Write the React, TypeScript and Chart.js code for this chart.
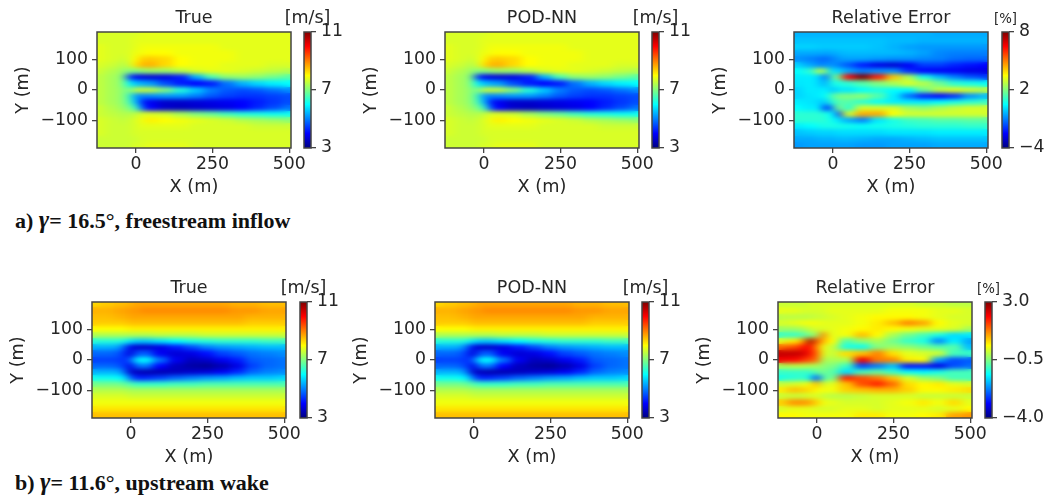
import React, { useEffect, useRef } from "react";
import { Chart, registerables } from "chart.js";

Chart.register(...registerables);

const xCols = [-125, -75, -40, -20, 0, 25, 50, 100, 150, 200, 250, 300, 350, 400, 450, 500];
const yRows = [180, 160, 140, 120, 100, 80, 60, 40, 20, 0, -20, -40, -60, -80, -100, -120, -140, -160, -180];

const xTicks = [0, 250, 500];
const yTicks = [-100, 0, 100];

const speedFreestream = [
  [7.7,7.7,7.7,7.7,7.7,7.8,7.8,7.8,7.8,7.8,7.8,7.8,7.8,7.8,7.8,7.8],
  [7.7,7.7,7.7,7.7,7.8,7.8,7.8,7.8,7.8,7.8,7.8,7.8,7.8,7.8,7.8,7.8],
  [7.8,7.7,7.7,7.7,7.8,7.9,7.9,7.9,7.9,7.9,7.9,7.8,7.8,7.8,7.8,7.8],
  [7.8,7.7,7.7,7.7,7.9,7.9,8.0,8.0,7.9,7.9,7.9,7.9,7.8,7.8,7.8,7.8],
  [7.8,7.7,7.6,7.7,8.0,8.4,8.4,8.3,8.0,7.9,7.9,7.9,7.8,7.8,7.8,7.8],
  [7.7,7.6,7.4,7.6,8.2,8.6,8.6,8.3,8.0,7.9,7.9,7.8,7.8,7.8,7.7,7.7],
  [7.6,7.4,7.2,7.0,7.0,7.1,7.2,7.2,7.4,7.7,7.8,7.8,7.7,7.6,7.5,7.4],
  [7.5,7.3,7.0,4.5,3.9,3.8,3.7,3.8,4.2,5.4,6.6,7.1,7.2,7.1,6.9,6.7],
  [7.5,7.3,7.0,6.0,5.5,5.4,5.2,4.6,4.2,4.0,4.2,4.9,5.4,5.7,5.9,6.0],
  [7.5,7.3,7.1,6.8,7.5,7.6,7.5,7.0,6.3,5.6,5.0,4.7,4.6,4.7,4.9,5.1],
  [7.5,7.3,7.1,6.5,5.2,5.0,5.1,5.2,5.2,5.0,4.7,4.5,4.4,4.4,4.5,4.6],
  [7.5,7.3,7.1,6.6,5.5,4.3,3.9,3.6,3.6,3.7,3.8,3.9,4.0,4.2,4.4,4.6],
  [7.6,7.4,7.2,7.0,6.5,4.8,4.0,3.6,3.5,3.6,3.7,3.8,4.0,4.3,4.6,4.9],
  [7.6,7.5,7.4,7.4,7.5,7.7,7.7,7.6,7.3,7.0,6.8,6.5,6.3,6.2,6.1,6.1],
  [7.7,7.6,7.5,7.6,7.7,7.9,8.1,8.0,7.9,7.8,7.7,7.6,7.4,7.3,7.2,7.1],
  [7.7,7.6,7.6,7.6,7.7,7.8,7.8,7.8,7.8,7.7,7.7,7.7,7.7,7.6,7.6,7.6],
  [7.7,7.6,7.6,7.6,7.7,7.7,7.7,7.7,7.7,7.7,7.7,7.7,7.7,7.7,7.7,7.7],
  [7.6,7.6,7.6,7.6,7.6,7.7,7.7,7.7,7.7,7.7,7.7,7.7,7.7,7.7,7.7,7.7],
  [7.6,7.6,7.6,7.6,7.7,7.7,7.8,7.8,7.8,7.7,7.7,7.7,7.7,7.7,7.7,7.7],
];

const errorFreestream = [
  [-0.4,-0.4,-0.4,-0.4,-0.4,-0.4,-0.4,-0.4,-0.4,-0.4,-0.4,-0.4,-0.5,-0.5,-0.5,-0.5],
  [-0.2,-0.2,-0.2,-0.2,-0.2,-0.2,-0.2,-0.2,-0.2,-0.3,-0.3,-0.4,-0.4,-0.4,-0.4,-0.4],
  [0,0,-0.1,-0.1,-0.1,-0.1,-0.1,-0.1,-0.2,-0.4,-0.6,-0.7,-0.7,-0.7,-0.7,-0.7],
  [-0.5,-0.5,-0.5,-0.6,-0.5,-0.4,-0.3,-0.3,-0.3,-0.3,-0.4,-0.6,-0.9,-1,-1,-1],
  [-0.8,-1,-1.2,-1.3,-1,-0.7,-0.6,-0.6,-0.7,-0.8,-0.8,-0.9,-1,-1.2,-1.3,-1.3],
  [0,-0.5,-1,-0.8,-0.8,-1,-1.5,-2.2,-2.8,-3,-2.6,-1.8,-1.8,-2.1,-2.3,-2.5],
  [0.5,1,3,1.8,0,0.2,-0.5,-1,-0.8,-0.8,-2,-2.5,-2.6,-2.6,-2.8,-2.8],
  [0.3,0.3,0,-1.5,1.5,2,6.5,8,6.2,4.2,2.5,0.8,-0.3,-1,-1.5,-1.8],
  [0.2,0.3,0,-0.5,0.8,0.8,1,1.5,2,2.5,3,2.6,1.8,1,0.8,0.6],
  [0,0.3,0.2,0.5,-0.3,0.3,0.2,0.5,0.8,0.5,0.5,1.8,2.8,3.2,3,2.8],
  [0,0.2,0.3,0.5,1.5,2,2,2.2,1.5,0.3,-1.2,-2.2,-2.5,-2,-0.8,-0.3],
  [0.3,0.2,0,-0.2,1,1.5,1.5,1,0.6,0.3,0.3,0.3,0.5,0.8,1,1.2],
  [0.5,0.3,0.3,-2.6,-0.5,2.5,1,3,3,3,2.4,2.2,2.5,2.8,3,3],
  [1,1,1,0.8,0.5,-2.2,3,4.5,4.5,3.5,3,3,3,3,3,3],
  [1,1,1,1,0.6,0.2,-0.5,-1,0.2,0.8,1.2,1.3,1.5,1.5,1.6,1.6],
  [0.3,0.5,0.7,0.8,0.8,0.8,0.7,0.6,0.7,0.8,0.9,1,1,1,1.1,1.1],
  [-0.2,-0.1,0,0,0,0.1,0.1,0.1,0.1,0.2,0.2,0.2,0.3,0.3,0.3,0.3],
  [-0.5,-0.5,-0.4,-0.4,-0.4,-0.3,-0.3,-0.4,-0.5,-0.5,-0.4,-0.3,-0.2,-0.2,-0.2,-0.2],
  [-0.7,-0.6,-0.6,-0.6,-0.6,-0.6,-0.6,-0.7,-0.7,-0.6,-0.6,-0.6,-0.5,-0.5,-0.5,-0.5],
];

const speedWake = [
  [8.3,8.4,8.5,8.5,8.6,8.7,8.7,8.7,8.7,8.7,8.7,8.7,8.6,8.6,8.5,8.5],
  [8.6,8.6,8.7,8.7,8.8,8.8,8.9,8.9,8.9,8.9,8.9,8.9,8.8,8.8,8.7,8.7],
  [8.5,8.5,8.6,8.6,8.7,8.7,8.7,8.7,8.7,8.7,8.7,8.7,8.7,8.6,8.6,8.6],
  [8.4,8.4,8.4,8.4,8.5,8.5,8.5,8.5,8.5,8.5,8.5,8.5,8.5,8.4,8.4,8.4],
  [8.0,8.0,8.0,8.0,8.1,8.1,8.1,8.1,8.1,8.1,8.1,8.1,8.1,8.1,8.1,8.1],
  [7.4,7.4,7.4,7.4,7.4,7.4,7.4,7.5,7.5,7.5,7.6,7.6,7.6,7.6,7.6,7.6],
  [6.3,6.3,6.3,6.2,5.8,5.6,5.6,5.8,6.0,6.2,6.3,6.4,6.4,6.4,6.5,6.5],
  [5.4,5.4,5.3,4.8,3.8,3.6,3.6,3.8,4.2,4.6,5.0,5.2,5.3,5.4,5.5,5.5],
  [4.8,4.8,4.7,4.4,3.7,4.7,4.7,3.9,3.7,3.8,4.1,4.5,4.7,4.9,5.0,5.1],
  [4.5,4.5,4.5,4.3,4.7,6.0,6.0,4.9,3.9,3.5,3.6,3.9,4.2,4.7,4.8,4.9],
  [4.8,4.8,4.7,4.5,3.8,4.9,4.9,4.0,3.5,3.3,3.2,3.4,3.8,4.5,4.8,4.9],
  [5.4,5.4,5.4,4.9,3.6,3.5,3.4,3.4,3.5,3.6,3.7,3.9,4.3,4.8,5.0,5.1],
  [6.1,6.1,6.0,5.9,4.8,4.2,4.3,4.5,4.8,5.0,5.2,5.3,5.5,5.6,5.6,5.7],
  [6.9,6.9,6.9,6.8,6.6,6.4,6.4,6.4,6.5,6.5,6.6,6.6,6.6,6.6,6.6,6.6],
  [7.4,7.4,7.4,7.4,7.3,7.3,7.3,7.3,7.3,7.3,7.3,7.3,7.3,7.3,7.3,7.3],
  [7.7,7.7,7.7,7.7,7.6,7.6,7.6,7.6,7.6,7.6,7.6,7.6,7.6,7.6,7.6,7.6],
  [7.9,7.9,7.9,7.9,7.9,7.9,7.9,7.9,7.9,7.9,7.9,7.9,7.9,7.9,7.9,7.9],
  [8.2,8.2,8.2,8.2,8.2,8.2,8.2,8.2,8.2,8.2,8.2,8.2,8.2,8.2,8.2,8.2],
  [8.5,8.5,8.5,8.5,8.5,8.5,8.5,8.5,8.5,8.5,8.5,8.5,8.5,8.5,8.5,8.5],
];

const errorWake = [
  [0,0,0,0.1,0.1,0.1,0.1,0.1,0.1,0.1,0.1,0.1,0,0,-0.1,-0.1],
  [0.2,0.2,0.1,0.1,0.1,0.1,0.2,0.2,0.2,0.2,0.3,0.3,0.3,0.2,0.2,0.1],
  [-0.1,-0.1,-0.1,-0.1,0,0,0.1,0.2,0.3,0.4,0.4,0.4,0.3,0.2,0.1,0.1],
  [0.1,0.2,0.3,0.3,0.3,0.2,0.2,0.2,0.3,0.5,0.8,1.2,1,0.4,0.2,0.1],
  [-0.3,-0.3,-0.2,0,0.1,0.1,0.2,0.3,0.4,0.5,0.4,0.3,0.2,0.2,0.1,-0.2],
  [-1,-1,-0.8,-0.5,-0.3,1.4,0.2,0.3,0.8,0.4,-0.2,-0.6,-0.9,-1.2,-1.6,-1.5],
  [0.2,0.5,1.1,3,1.5,1,0.4,-0.8,-0.4,-0.2,-0.6,-1,-1.2,-2.2,-1.5,-2],
  [1.4,1.6,2,2.1,1.2,0.3,0,-1.2,-1.3,-0.5,-0.3,-0.4,-0.6,-0.8,-0.8,-1.8],
  [2.5,2.5,2.4,2,1.5,0.2,0,0.6,0.8,1.2,0.6,0.2,0.1,0,-0.9,-1],
  [2.2,2.1,1.8,1.6,1.4,-0.2,-0.2,-0.2,2.2,1.3,1.2,0.5,0.4,-2,-2.6,-2.5],
  [-0.2,-0.1,-0.1,-0.2,-0.2,-0.4,-0.5,-1,-2.6,-2.3,-1.8,-3,-3,-3.3,-2.6,-2.4],
  [-1,-1,-1,-1,-0.8,-0.5,-0.8,-1.6,-0.9,-0.7,-1,-1.3,-1.4,-1.2,-0.9,-0.9],
  [-1.2,-1.1,-1,-1.3,-2.8,-0.9,-0.6,1.9,1.6,1.3,0.8,0.1,-0.3,-0.5,-0.9,-0.9],
  [0,0.1,0.2,0.3,0.9,0,0.2,0.8,1.6,1.9,1.4,0.6,0.4,0.5,0.2,0.1],
  [0.5,0.8,0.7,0.6,0.4,0.3,0.3,0.7,0.8,0.9,0.9,0.7,0.4,0.4,0.5,0.6],
  [0,0,0,0.1,0.1,0,-0.1,-0.1,0,0.1,0.1,0.1,0,0,0,0],
  [0.7,1.1,1.1,1,0.7,0.3,0.2,0.1,0.1,0.1,0.2,0.3,0.5,0.3,0.6,0.2],
  [0.1,0.2,0.2,0.2,0.1,0.1,0.1,0.2,0.2,0.1,0.2,0.2,0.2,0.1,0.2,0.4],
  [0.4,0.4,0.3,0.3,0.3,0.3,0.3,0.3,0.5,0.5,0.3,0.3,0.4,0.5,1,1.1],
];

const podSpeedFreestream = speedFreestream;
const podSpeedWake = speedWake;

type Panel = {
  title: string; unit: string; unitSmall: boolean; grid: number[][];
  min: number; max: number; cbarTicks: number[]; decimals: number;
  left: number; top: number; barLeft: number;
};

const panels: Panel[] = [
  { title: "True", unit: "[m/s]", unitSmall: false, grid: speedFreestream, min: 3, max: 11, cbarTicks: [3, 7, 11], decimals: 0, left: 97, top: 32, barLeft: 304 },
  { title: "POD-NN", unit: "[m/s]", unitSmall: false, grid: podSpeedFreestream, min: 3, max: 11, cbarTicks: [3, 7, 11], decimals: 0, left: 445, top: 32, barLeft: 652 },
  { title: "Relative Error", unit: "[%]", unitSmall: true, grid: errorFreestream, min: -4, max: 8, cbarTicks: [-4, 2, 8], decimals: 0, left: 794, top: 32, barLeft: 1002 },
  { title: "True", unit: "[m/s]", unitSmall: false, grid: speedWake, min: 3, max: 11, cbarTicks: [3, 7, 11], decimals: 0, left: 92, top: 302, barLeft: 300 },
  { title: "POD-NN", unit: "[m/s]", unitSmall: false, grid: podSpeedWake, min: 3, max: 11, cbarTicks: [3, 7, 11], decimals: 0, left: 435, top: 302, barLeft: 642 },
  { title: "Relative Error", unit: "[%]", unitSmall: true, grid: errorWake, min: -4, max: 3, cbarTicks: [-4, -0.5, 3], decimals: 1, left: 778, top: 302, barLeft: 985 },
];

const AREA_W = 194;
const AREA_H = 116;
const FONT = '"DejaVu Sans"';
const INK = "#262626";

const clamp = (v: number) => Math.max(0, Math.min(1, v));
const jet = (t: number) => {
  const r = clamp(Math.min(4 * t - 1.5, -4 * t + 4.5));
  const g = clamp(Math.min(4 * t - 0.5, -4 * t + 3.5));
  const b = clamp(Math.min(4 * t + 0.5, -4 * t + 2.5));
  return `rgb(${Math.round(r * 255)},${Math.round(g * 255)},${Math.round(b * 255)})`;
};

const cellCache = new Map<string, HTMLCanvasElement>();
const cellImage = (color: string, w: number, h: number) => {
  const key = `${color}|${w}|${h}`;
  let c = cellCache.get(key);
  if (!c) {
    c = document.createElement("canvas");
    c.width = w;
    c.height = h;
    const g = c.getContext("2d")!;
    g.fillStyle = color;
    g.fillRect(0, 0, w, h);
    cellCache.set(key, c);
  }
  return c;
};

const smoothPlugin = {
  id: "smooth",
  afterDatasetsDraw(chart: any) {
    const a = chart.chartArea;
    const w = Math.round(a.right - a.left);
    const h = Math.round(a.bottom - a.top);
    const off = document.createElement("canvas");
    off.width = Math.round(w / 2);
    off.height = h;
    const o = off.getContext("2d")!;
    o.filter = "blur(2px)";
    o.drawImage(chart.canvas, a.left, a.top, w, h, 0, 0, off.width, off.height);
    const ctx = chart.ctx;
    ctx.save();
    ctx.beginPath();
    ctx.rect(a.left, a.top, w, h);
    ctx.clip();
    ctx.imageSmoothingEnabled = true;
    ctx.imageSmoothingQuality = "high";
    ctx.drawImage(off, a.left, a.top, w, h);
    ctx.restore();
  },
};

const framePlugin = {
  id: "frame",
  afterDraw(chart: any) {
    const a = chart.chartArea;
    const ctx = chart.ctx;
    ctx.save();
    ctx.strokeStyle = "#444";
    ctx.lineWidth = 1.5;
    ctx.strokeRect(a.left, a.top, a.right - a.left, a.bottom - a.top);
    ctx.restore();
  },
};

const minus = (s: string) => s.replace("-", "\u2212");

function heatConfig(p: Panel) {
  const points: any[] = [];
  p.grid.forEach((row, j) =>
    row.forEach((v, i) => points.push({ x: xCols[i], y: yRows[j], v, i }))
  );
  const pxPerM = 0.306;
  const cellWidth = (i: number) => {
    const lo = xCols[Math.max(i - 1, 0)];
    const hi = xCols[Math.min(i + 1, xCols.length - 1)];
    const span = i === 0 || i === xCols.length - 1 ? (hi - lo) * 2 : hi - lo;
    return Math.ceil((span / 2) * pxPerM) + 1;
  };
  return {
    type: "scatter",
    data: {
      datasets: [
        {
          data: points,
          clip: 0,
          pointRadius: 10,
          pointBorderWidth: 0,
          pointHoverRadius: 10,
          pointStyle: (c: any) =>
            c.raw ? cellImage(jet((c.raw.v - p.min) / (p.max - p.min)), cellWidth(c.raw.i), 7) : "rect",
        },
      ],
    },
    options: {
      responsive: false,
      animation: false,
      devicePixelRatio: 1,
      events: [],
      layout: { padding: { right: 30 }, autoPadding: false },
      plugins: {
        legend: { display: false },
        tooltip: { enabled: false },
        title: {
          display: true,
          text: p.title,
          color: INK,
          fullSize: false,
          font: { family: FONT, size: 17.5, weight: "normal", lineHeight: "20px" },
          padding: { top: 0, bottom: 4 },
        },
      },
      scales: {
        x: {
          type: "linear",
          min: -127.5,
          max: 506,
          afterBuildTicks: (s: any) => { s.ticks = xTicks.map((value) => ({ value })); },
          afterFit: (s: any) => { s.height = 49; },
          grid: { drawOnChartArea: false, drawTicks: true, tickLength: 5, color: "#444", lineWidth: 1.3 },
          border: { display: false },
          ticks: {
            color: INK, padding: 1, maxRotation: 0, minRotation: 0, autoSkip: false,
            font: { family: FONT, size: 17.3 },
            callback: (v: any) => minus(String(v)),
          },
          title: { display: true, text: "X (m)", color: INK, font: { family: FONT, size: 17.7, lineHeight: "20px" }, padding: { top: 0, bottom: 0 } },
        },
        y: {
          type: "linear",
          min: -189,
          max: 189,
          afterBuildTicks: (s: any) => { s.ticks = yTicks.map((value) => ({ value })); },
          afterFit: (s: any) => { s.width = 90; },
          grid: { drawOnChartArea: false, drawTicks: true, tickLength: 5, color: "#444", lineWidth: 1.3 },
          border: { display: false },
          ticks: {
            color: INK, padding: 4, autoSkip: false,
            font: { family: FONT, size: 17.3 },
            callback: (v: any) => minus(String(v)),
          },
          title: { display: true, text: "Y (m)", color: INK, font: { family: FONT, size: 17.7, lineHeight: "20px" }, padding: { top: 6, bottom: 0 } },
        },
      },
    },
    plugins: [smoothPlugin, framePlugin],
  };
}

function barConfig(p: Panel) {
  return {
    type: "bar",
    data: {
      labels: [p.unit],
      datasets: [
        {
          data: [[p.min, p.max]],
          barPercentage: 1,
          categoryPercentage: 1,
          borderWidth: 0,
          borderSkipped: false,
          backgroundColor: (c: any) => {
            const a = c.chart.chartArea;
            if (!a) return "#000";
            const g = c.chart.ctx.createLinearGradient(0, a.bottom, 0, a.top);
            for (let i = 0; i <= 16; i++) g.addColorStop(i / 16, jet(i / 16));
            return g;
          },
        },
      ],
    },
    options: {
      responsive: false,
      animation: false,
      devicePixelRatio: 1,
      events: [],
      layout: { padding: { bottom: 20 }, autoPadding: false },
      plugins: {
        legend: { display: false },
        tooltip: { enabled: false },
        title: {
          display: true,
          text: p.unit,
          color: INK,
          font: { family: FONT, size: p.unitSmall ? 13.3 : 17.5, weight: "normal", lineHeight: p.unitSmall ? "16px" : "20px" },
          padding: { top: 0, bottom: 4 },
        },
      },
      scales: {
        x: { display: false },
        y: {
          position: "right",
          type: "linear",
          min: p.min,
          max: p.max,
          afterBuildTicks: (s: any) => { s.ticks = p.cbarTicks.map((value) => ({ value })); },
          afterFit: (s: any) => { s.width = 60; },
          grid: { drawOnChartArea: false, drawTicks: true, tickLength: 5, color: "#444", lineWidth: 1.3 },
          border: { display: false },
          ticks: {
            color: INK, padding: 5, autoSkip: false,
            font: { family: FONT, size: 17.3 },
            callback: (v: any) => minus(Number(v).toFixed(p.decimals)),
          },
        },
        spacer: {
          position: "left",
          type: "linear",
          afterFit: (s: any) => { s.width = 60; },
          grid: { display: false },
          border: { display: false },
          ticks: { display: false },
        },
      },
    },
    plugins: [framePlugin],
  };
}

function ChartCanvas({ config, style, width, height }: any) {
  const ref = useRef<HTMLCanvasElement>(null);
  useEffect(() => {
    const chart = new Chart(ref.current!, config());
    return () => chart.destroy();
  }, []);
  return <canvas ref={ref} width={width} height={height} style={{ position: "absolute", display: "block", ...style }} />;
}

const BAR_W = 7;

const Caption = ({ top, label, rest }: { top: number; label: string; rest: string }) => (
  <div style={{ position: "absolute", left: 15, top, whiteSpace: "pre", font: '700 22px "Liberation Serif"', color: "#111" }}>
    {label} <i style={{ fontSize: 25, lineHeight: 1 }}>γ</i>{rest}
  </div>
);

export default function App() {
  return (
    <div style={{ position: "absolute", left: 0, top: 0, width: 1045, height: 496, overflow: "hidden", background: "#fff" }}>
      {panels.map((p, i) => (
        <React.Fragment key={i}>
          <ChartCanvas
            config={() => heatConfig(p)}
            width={90 + AREA_W + 30}
            height={24 + AREA_H + 49}
            style={{ left: p.left - 90, top: p.top - 24 }}
          />
          <ChartCanvas
            config={() => barConfig(p)}
            width={60 + BAR_W + 60}
            height={(p.unitSmall ? 20 : 24) + AREA_H + 20}
            style={{ left: p.barLeft - 60, top: p.top - (p.unitSmall ? 20 : 24) }}
          />
        </React.Fragment>
      ))}
      <Caption top={207} label="a)" rest={"= 16.5°, freestream inflow"} />
      <Caption top={469} label="b)" rest={"= 11.6°, upstream wake"} />
    </div>
  );
}
